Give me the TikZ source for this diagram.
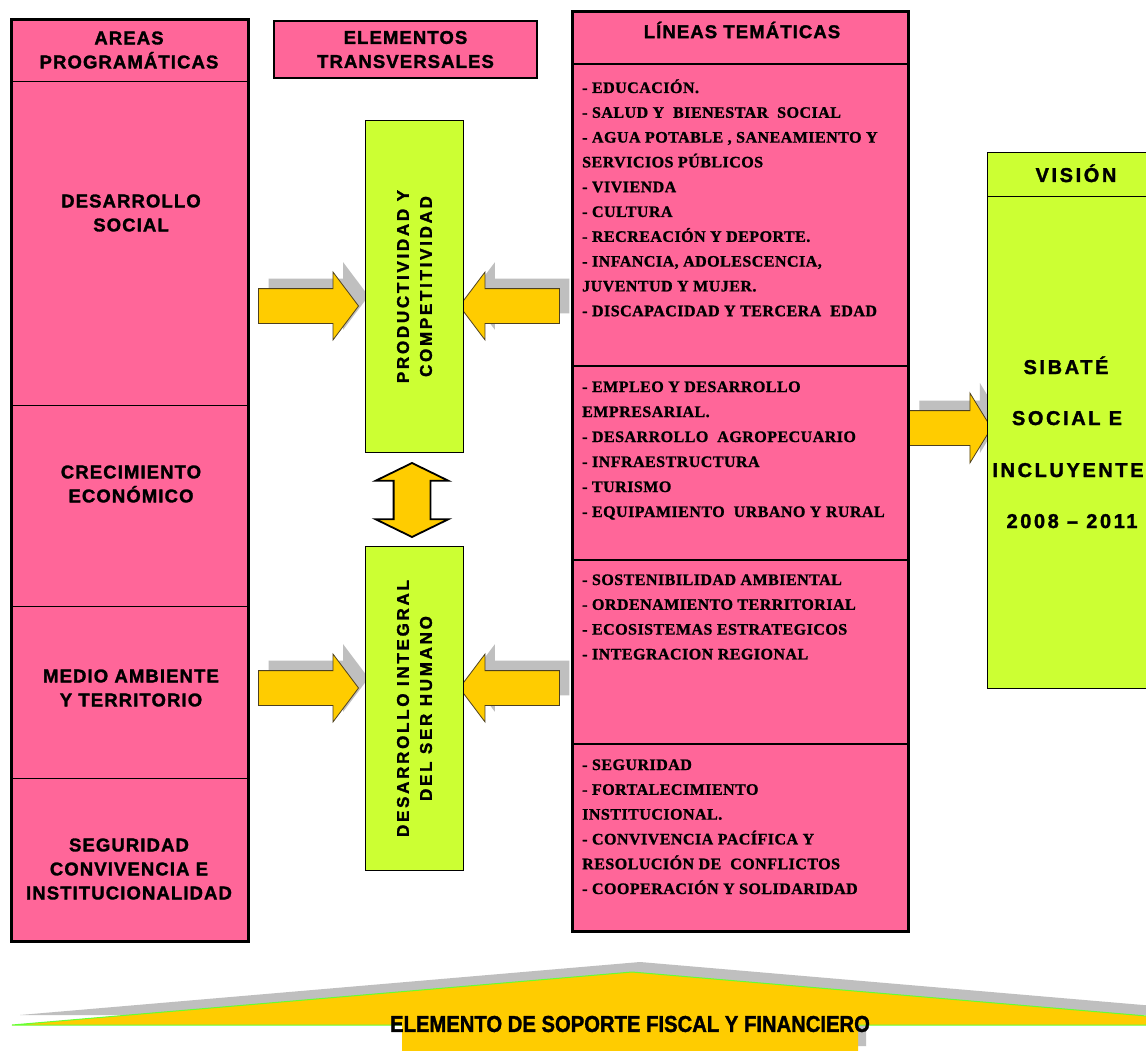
\documentclass[tikz,border=0pt]{standalone}
\usepackage{fontspec}
\setmainfont{Liberation Serif}
\newfontfamily\hdfont{Liberation Sans}[LetterSpace=6,FakeBold=1.6]
\newfontfamily\rotfont{Liberation Sans}[LetterSpace=16,FakeBold=1.6]
\newfontfamily\visfont{Liberation Sans}[LetterSpace=13,FakeBold=1.6]
\newfontfamily\sopfont{Liberation Sans}[FakeStretch=0.88,FakeBold=1.4]
\newfontfamily\lstfont{Liberation Serif}[LetterSpace=3,FakeBold=1.2]
\usetikzlibrary{shapes.arrows,shadows}
\pgfdeclarelayer{bg}
\pgfsetlayers{bg,main}
\definecolor{pinkc}{HTML}{FF6699}
\definecolor{greenc}{HTML}{CCFF33}
\definecolor{yel}{HTML}{FFCC00}
\definecolor{shgray}{HTML}{BFBFBF}
\definecolor{edgegreen}{HTML}{66FF33}
\definecolor{arrowline}{HTML}{4D4020}
\tikzset{
  pbox/.style={draw=black, fill=pinkc, inner sep=0pt, anchor=north west},
  gbox/.style={draw=black, fill=greenc, line width=1pt, inner sep=0pt, anchor=north west},
  hdr/.style={font={\hdfont\bfseries\fontsize{18.5}{24}\selectfont}, align=center, inner sep=0pt},
  rottxt/.style={font={\rotfont\bfseries\fontsize{17}{23}\selectfont}, align=center, inner sep=0pt, rotate=90},
  vistxt/.style={font={\visfont\bfseries\fontsize{20}{24}\selectfont}, inner sep=0pt, anchor=base},
  lst/.style={font={\lstfont\bfseries\fontsize{16}{20}\selectfont}, inner sep=0pt, anchor=base west},
  soptxt/.style={font={\sopfont\bfseries\fontsize{23}{26}\selectfont}, inner sep=0pt},
  rarrow/.style={single arrow, draw=arrowline, line width=0.8pt, fill=yel, inner sep=0pt,
    inner ysep=17pt, minimum height=100pt, single arrow head extend=16.5pt,
    single arrow tip angle=106,
    drop shadow={shadow xshift=10pt, shadow yshift=10pt, fill=shgray, opacity=1}},
  darrow/.style={double arrow, draw=black, line width=1.8pt, fill=yel, inner sep=0pt,
    inner ysep=17.5pt, minimum height=74pt, double arrow head extend=18pt,
    double arrow tip angle=128, rotate=90},
  divline/.style={line width=1pt},
}
\begin{document}
\begin{tikzpicture}[x=1pt,y=-1pt]
\useasboundingbox (0,0) rectangle (1146,1051);
\clip (0,0) rectangle (1146,1051);

% ---------- Areas programaticas ----------
\node[pbox, line width=3pt, minimum width=237pt, minimum height=922pt] (areas) at (10,18) {};
\draw[divline] (areas.north west |- 0,82) -- (areas.north east |- 0,82);
\draw[divline] (areas.north west |- 0,405) -- (areas.north east |- 0,405);
\draw[divline] (areas.north west |- 0,606) -- (areas.north east |- 0,606);
\draw[divline] (areas.north west |- 0,778) -- (areas.north east |- 0,778);
\node[hdr] (areash) at (129,50) {AREAS\\PROGRAMÁTICAS};
\node[hdr] (dsoc) at (131,213) {DESARROLLO\\SOCIAL};
\node[hdr] (creco) at (131,484) {CRECIMIENTO\\ECONÓMICO};
\node[hdr] (medio) at (131,688) {MEDIO AMBIENTE\\Y TERRITORIO};
\node[hdr] (segur) at (129,869) {SEGURIDAD\\CONVIVENCIA E\\INSTITUCIONALIDAD};

% ---------- Elementos transversales ----------
\node[pbox, line width=2pt, minimum width=263pt, minimum height=57pt] (elem) at (273,20) {};
\node[hdr] (elemh) at (elem.center) {ELEMENTOS\\TRANSVERSALES};

\node[gbox, minimum width=98pt, minimum height=332pt] (prod) at (365,120) {};
\node[rottxt] (prodt) at (prod.center) {PRODUCTIVIDAD Y\\COMPETITIVIDAD};
\node[gbox, minimum width=98pt, minimum height=324pt] (desa) at (365,546) {};
\node[rottxt] (desat) at (desa.center) {DESARROLLO INTEGRAL\\DEL SER HUMANO};

\node[darrow] (arV) at (412,500) {};

% ---------- Lineas tematicas ----------
\node[pbox, line width=3pt, minimum width=336pt, minimum height=920pt] (lineas) at (571,10) {};
\draw[line width=1.5pt] (lineas.north west |- 0,64) -- (lineas.north east |- 0,64);
\draw[line width=1.5pt] (lineas.north west |- 0,366) -- (lineas.north east |- 0,366);
\draw[line width=1.5pt] (lineas.north west |- 0,560) -- (lineas.north east |- 0,560);
\draw[line width=1.5pt] (lineas.north west |- 0,744) -- (lineas.north east |- 0,744);
\node[hdr] (lineash) at (742,30) {LÍNEAS TEMÁTICAS};

\foreach \t [count=\i from 0] in {{- EDUCACIÓN.},{- SALUD Y \ BIENESTAR \ SOCIAL},{- AGUA POTABLE , SANEAMIENTO Y},{SERVICIOS PÚBLICOS},{- VIVIENDA},{- CULTURA},{- RECREACIÓN Y DEPORTE.},{- INFANCIA, ADOLESCENCIA,},{JUVENTUD Y MUJER.},{- DISCAPACIDAD Y TERCERA \ EDAD}}
  \node[lst] (la\i) at (582,93+24.8*\i) {\t};
\foreach \t [count=\i from 0] in {{- EMPLEO Y DESARROLLO},{EMPRESARIAL.},{- DESARROLLO \ AGROPECUARIO},{- INFRAESTRUCTURA},{- TURISMO},{- EQUIPAMIENTO \ URBANO Y RURAL}}
  \node[lst] (lb\i) at (582,392+25*\i) {\t};
\foreach \t [count=\i from 0] in {{- SOSTENIBILIDAD AMBIENTAL},{- ORDENAMIENTO TERRITORIAL},{- ECOSISTEMAS ESTRATEGICOS},{- INTEGRACION REGIONAL}}
  \node[lst] (lc\i) at (582,585+24.8*\i) {\t};
\foreach \t [count=\i from 0] in {{- SEGURIDAD},{- FORTALECIMIENTO},{INSTITUCIONAL.},{- CONVIVENCIA PACÍFICA Y},{RESOLUCIÓN DE \ CONFLICTOS},{- COOPERACIÓN Y SOLIDARIDAD}}
  \node[lst] (ld\i) at (582,770+24.8*\i) {\t};

% ---------- Vision ----------
\node[gbox, minimum width=175pt, minimum height=536pt] (vision) at (987,152) {};
\draw[divline] (vision.north west |- 0,197) -- (vision.north east |- 0,197);
\node[vistxt] (visionh) at (1076,182) {VISIÓN};
\node[vistxt] (v1) at (1066,374) {SIBATÉ};
\node[vistxt] (v2) at (1067,425) {SOCIAL E};
\node[vistxt] (v3) at (1068,477) {INCLUYENTE};
\node[vistxt] (v4) at (1072,528) {2008 – 2011};

% ---------- block arrows (behind boxes) ----------
\begin{pgfonlayer}{bg}
\fill[white] (0,0) rectangle (1146,1051);
\node[rarrow] (arA) at (302,306) {};
\node[rarrow, shape border rotate=180] (arB) at (516,306) {};
\node[rarrow] (arC) at (302,688) {};
\node[rarrow, shape border rotate=180] (arD) at (516,688) {};
\node[rarrow, minimum height=82pt, single arrow head extend=17.5pt, single arrow tip angle=117] (arE) at (945,428) {};
\end{pgfonlayer}

% ---------- support element ----------
\fill[shgray] (20,1015) -- (640,962) -- (1260,1015) -- (866,1015) -- (866,1046) -- (410,1046) -- (410,1015) -- cycle;
\fill[yel] (12,1025) -- (632,972) -- (1252,1025) -- (858,1025) -- (858,1062) -- (402,1062) -- (402,1025) -- cycle;
\draw[edgegreen, line width=1pt] (402,1025) -- (12,1025) -- (632,972) -- (1252,1025) -- (858,1025);
\node[soptxt] (soporte) at (630,1024) {ELEMENTO DE SOPORTE FISCAL Y FINANCIERO};
\end{tikzpicture}
\end{document}
